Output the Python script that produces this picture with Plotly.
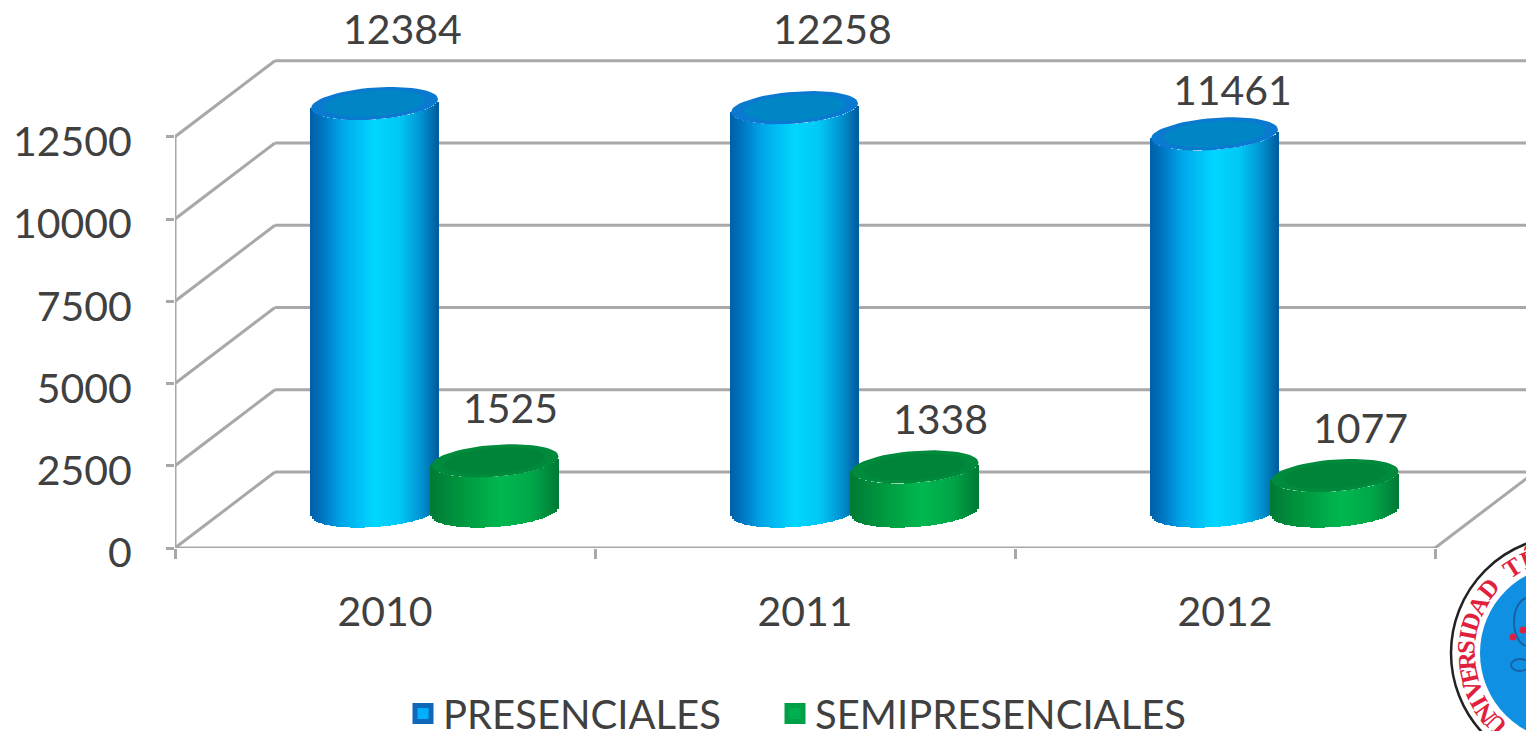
import math
import plotly.graph_objects as go

# ---------- data ----------
years = ["2010", "2011", "2012"]
presenciales = [12384, 12258, 11461]
semipresenciales = [1525, 1338, 1077]
y_ticks = [0, 2500, 5000, 7500, 10000, 12500]
series_names = ["PRESENCIALES", "SEMIPRESENCIALES"]

# ---------- geometry (pixels of the picture) ----------
W, H = 1526, 731
L, B = 175, 548
BAND = 420.0
PX_PER_VAL = 0.0329
VPP = 1 / PX_PER_VAL
CPP = 1 / BAND
X0 = -0.5
X1 = X0 + (W - L) * CPP
Y1 = B * VPP
A, E_B, TILT = 63.5, 16.0, 4.5
BASE_V = (B - 511) * VPP
WALL_DX, WALL_DY = 100 * CPP, 76 * VPP
AXIS_RIGHT = 2.5
SERIES_DX = [-10.5 * CPP, 110 * CPP]

BLUE = [(-1, "#0060a8"), (-.8, "#0078c4"), (-.5, "#00a8ea"), (0, "#00d6ff"),
        (.4, "#00c8f6"), (.75, "#0090cf"), (1, "#005c9e")]
GREEN = [(-1, "#007a35"), (-.5, "#00983f"), (.1, "#00b850"), (.6, "#00a648"), (1, "#007a35")]
TOPS = [("#0a7ad0", "#0086c4"), ("#008a3c", "#00843a")]
GRID = "#a8a8a8"
TXT = "#404040"
FONT = "Lato, 'Open Sans', sans-serif"


def mix(stops, t):
    for (t0, c0), (t1, c1) in zip(stops, stops[1:]):
        if t <= t1:
            f = (t - t0) / (t1 - t0)
            rgb = [round(int(c0[i:i+2], 16) * (1 - f) + int(c1[i:i+2], 16) * f) for i in (1, 3, 5)]
            return "rgb({},{},{})".format(*rgb)
    return stops[-1][1]


fig = go.Figure()

# cylinder bodies: narrow bars of the true value, base following the front arc
for s, (vals, stops) in enumerate(zip((presenciales, semipresenciales), (BLUE, GREEN))):
    dx = -A
    while dx <= A:
        t = dx / A
        v = math.sqrt(max(0, 1 - t * t))
        base = BASE_V + (TILT * t - E_B * v) * VPP
        fig.add_trace(go.Bar(
            x=[i + SERIES_DX[s] + dx * CPP for i in range(len(years))],
            y=vals, base=[base] * len(vals), width=3 * CPP,
            marker=dict(color=mix(stops, t), line=dict(width=0)),
            showlegend=False, hoverinfo="skip"))
        dx += 2

# cylinder tops
for s, vals in enumerate((presenciales, semipresenciales)):
    for scale, col in zip((1.0, 0.8), TOPS[s]):
        xs, ys = [], []
        for i, val in enumerate(vals):
            for k in range(61):
                ang = 2 * math.pi * k / 60
                c, n = math.cos(ang), math.sin(ang)
                xs.append(i + SERIES_DX[s] + scale * A * c * CPP)
                ys.append(BASE_V + val + (TILT * c * scale + E_B * scale * n) * VPP)
            xs.append(None)
            ys.append(None)
        fig.add_trace(go.Scatter(x=xs, y=ys, mode="lines", fill="toself", fillcolor=col,
                                 line=dict(width=0, color=col), showlegend=False, hoverinfo="skip"))

# legend entries (one legend each, so that each can sit where the reference has it)
for name, fc, lc, lg in zip(series_names, ("#00b0ff", "#00b050"), ("#1068b8", "#00a048"),
                            ("legend", "legend2")):
    fig.add_trace(go.Scatter(x=[None], y=[None], mode="markers", name=name, legend=lg,
                             marker=dict(symbol="square", size=16, color=fc,
                                         line=dict(color=lc, width=5))))

shapes = []


def seg(x0, y0, x1, y1, width=3, color=GRID):
    shapes.append(dict(type="line", xref="x", yref="y", x0=x0, y0=y0, x1=x1, y1=y1,
                       layer="below", line=dict(color=color, width=width)))


# walls
for v in y_ticks:
    seg(X0 + WALL_DX, v + WALL_DY, X1, v + WALL_DY)
    seg(X0, v, X0 + WALL_DX, v + WALL_DY)
seg(AXIS_RIGHT, 0, AXIS_RIGHT + WALL_DX, WALL_DY)
seg(X0, 0, X0, y_ticks[-1])
seg(X0, 0, AXIS_RIGHT, 0)

# data labels
annotations = []
LABEL_DX = [[28, 38, 18], [15, 25, 25]]
LABEL_DY = [[75, 79, 44], [53, 48, 48]]
for s, vals in enumerate((presenciales, semipresenciales)):
    for i, val in enumerate(vals):
        annotations.append(dict(x=i + SERIES_DX[s], y=BASE_V + val, xref="x", yref="y",
                                text=str(val), showarrow=False, xshift=LABEL_DX[s][i],
                                yshift=LABEL_DY[s][i], font=dict(family=FONT, size=41, color=TXT)))


# seal in the corner
def px(x):
    return (x - L) / (W - L)


def py(y):
    return (B - y) / B


CX, CY = 1568, 653


def ellipse(cx, cy, rx, ry, fill, line_c=None, lw=0):
    shapes.append(dict(type="circle", xref="paper", yref="paper",
                       x0=px(cx - rx), x1=px(cx + rx), y0=py(cy + ry), y1=py(cy - ry),
                       fillcolor=fill, line=dict(color=line_c or fill, width=lw), layer="above"))


ellipse(CX, CY, 117, 117, "#ffffff", "#222222", 2.5)
ellipse(CX, CY, 88, 88, "#1090e2")
ellipse(1528, 622, 14, 24, "rgba(0,0,0,0)", "#1a5fa8", 2)
ellipse(1520, 665, 9, 6, "rgba(0,0,0,0)", "#1a5fa8", 2)
ellipse(1513, 637, 3.5, 3.5, "#e0203c")
ellipse(1523, 630, 3.5, 3.5, "#e0203c")
seal_letters = ["U", "N", "I", "V", "E", "R", "S", "I", "D", "A", "D", "T", "É"]
seal_angles = [225, 216, 208.5, 201, 192.5, 184.5, 176.5, 170, 162, 152, 141, 123, 112]
for ch, ang in zip(seal_letters, seal_angles):
    a = math.radians(ang)
    annotations.append(dict(xref="paper", yref="paper", x=px(CX + 102 * math.cos(a)),
                            y=py(CY - 102 * math.sin(a)), text="<b>%s</b>" % ch, showarrow=False,
                            textangle=90 - ang, xanchor="center", yanchor="middle",
                            font=dict(family="Liberation Serif", size=25, color="#e0203c")))

fig.update_layout(
    width=W, height=H, autosize=False,
    margin=dict(l=L, r=0, t=0, b=H - B, pad=0, autoexpand=False),
    paper_bgcolor="white", plot_bgcolor="white",
    barmode="overlay", bargap=0,
    font=dict(family=FONT, size=40, color=TXT),
    shapes=shapes, annotations=annotations,
    xaxis=dict(range=[X0, X1], tickmode="array", tickvals=[0, 1, 2], ticktext=years,
               ticks="", showgrid=False, zeroline=False, showline=False,
               ticklabelstandoff=36, tickfont=dict(family=FONT, size=41, color=TXT),
               minor=dict(tickmode="array", tickvals=[-0.5, 0.5, 1.5, 2.5], ticks="outside",
                          ticklen=10, tickwidth=3, tickcolor=GRID, showgrid=False)),
    yaxis=dict(range=[0, Y1], tickmode="array", tickvals=y_ticks,
               ticktext=[str(v) for v in y_ticks], ticks="outside", ticklen=8,
               tickwidth=3, tickcolor=GRID, showgrid=False, zeroline=False, showline=False,
               ticklabelstandoff=26, ticklabelshift=5,
               tickfont=dict(family=FONT, size=41, color=TXT)),
    legend=dict(x=px(403), y=py(681), xanchor="left", yanchor="top",
                font=dict(family=FONT, size=40, color=TXT), bgcolor="rgba(0,0,0,0)"),
    legend2=dict(x=px(775), y=py(681), xanchor="left", yanchor="top",
                 font=dict(family=FONT, size=40, color=TXT), bgcolor="rgba(0,0,0,0)"),
)

fig.write_html("out.html", config=dict(displayModeBar=False),
               post_script="document.body.style.margin='0';document.documentElement.style.overflow='hidden';")
